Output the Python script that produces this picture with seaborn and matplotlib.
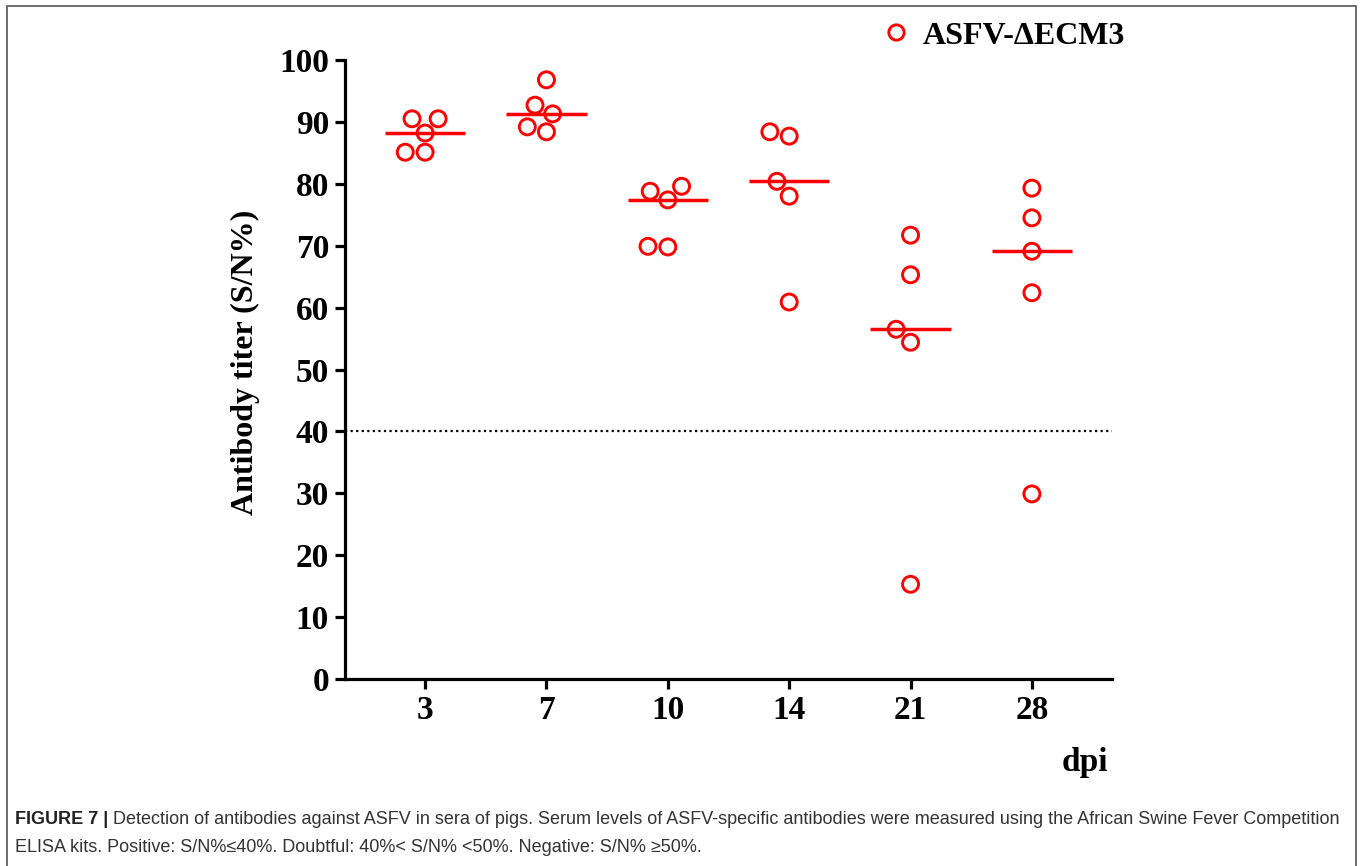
import numpy as np
import pandas as pd
import matplotlib
matplotlib.use("Agg")
import matplotlib.pyplot as plt
from matplotlib.lines import Line2D
from matplotlib.patches import Rectangle
import seaborn as sns

# ---- data ----
days = ["3", "7", "10", "14", "21", "28"]
d3 = [90.5, 90.5, 88.2, 85.1, 85.1]
d7 = [96.8, 92.7, 91.3, 89.2, 88.4]
d10 = [79.6, 78.8, 77.4, 69.8, 69.9]
d14 = [88.4, 87.7, 80.4, 78.0, 60.9]
d21 = [71.7, 65.3, 56.5, 54.4, 15.3]
d28 = [79.3, 74.5, 69.1, 62.4, 29.9]
yticks = [0, 10, 20, 30, 40, 50, 60, 70, 80, 90, 100]
cutoff = 40
series_name = "ASFV-\u0394ECM3"
ylabel = "Antibody titer (S/N%)"
xlabel = "dpi"
caption_bold = "FIGURE 7 |"
caption_line1 = (" Detection of antibodies against ASFV in sera of pigs. Serum levels of "
                 "ASFV-specific antibodies were measured using the African Swine Fever Competition")
caption_line2 = ("ELISA kits. Positive: S/N%\u226440%. Doubtful: 40%< S/N% <50%. "
                 "Negative: S/N% \u226550%.")

groups = [d3, d7, d10, d14, d21, d28]
df = pd.DataFrame({
    "dpi": np.repeat(days, [len(g) for g in groups]),
    "titer": np.concatenate(groups),
})

sns.set_theme(style="ticks")
plt.rcParams["font.family"] = ["Liberation Serif", "DejaVu Serif"]
plt.rcParams["text.color"] = "black"
plt.rcParams["axes.labelcolor"] = "black"
plt.rcParams["xtick.color"] = "black"
plt.rcParams["ytick.color"] = "black"

W, H = 1360, 866
fig = plt.figure(figsize=(W / 100, H / 100), dpi=100)
ax = fig.add_axes([345 / W, 1 - 679 / H, (1112 - 345) / W, (679 - 60) / H])

RED = "#ff0000"
sns.swarmplot(data=df, x="dpi", y="titer", order=days, ax=ax, size=11.5,
              color=RED, linewidth=2.0, edgecolor=RED, warn_thresh=1.0)
for coll in ax.collections:
    coll.set_facecolor("none")
    coll.set_edgecolor(RED)
    coll.set_linewidth(2.1)

sns.boxplot(data=df, x="dpi", y="titer", order=days, ax=ax, width=0.66,
            showbox=False, showcaps=False, showfliers=False,
            whiskerprops={"visible": False},
            medianprops={"color": RED, "linewidth": 2.5})

ax.axhline(cutoff, color="black", linestyle=(0, (1, 1.5)), linewidth=1.6, zorder=0)

ax.set_xlim(-0.66, 5.66)
ax.set_ylim(0, 100)
ax.set_yticks(yticks)
ax.set_yticklabels([str(t) for t in yticks])
sns.despine(ax=ax)
for s in ["left", "bottom"]:
    ax.spines[s].set_linewidth(2.3)
    ax.spines[s].set_color("black")
ax.tick_params(axis="both", which="major", length=7.5, width=2.3, color="black",
               labelcolor="black", labelsize=24, pad=4)
for lab in ax.get_xticklabels() + ax.get_yticklabels():
    lab.set_fontweight("bold")

ax.set_ylabel(ylabel, fontsize=23, fontweight="bold", color="black")
ax.yaxis.set_label_coords((260 - 345) / (1112 - 345), (679 - 362) / (679 - 60))
ax.set_xlabel(xlabel, fontsize=24, fontweight="bold", color="black")
ax.xaxis.set_label_coords((1085 - 345) / (1112 - 345), -(747 - 679) / (679 - 60))

handle = Line2D([], [], linestyle="none", marker="o", markersize=11,
                markerfacecolor="none", markeredgecolor=RED, markeredgewidth=2.1)
fig.legend([handle], [series_name], loc="center left",
           bbox_to_anchor=(880 / W, 1 - 36 / H), frameon=False,
           prop={"size": 23, "weight": "bold"}, handletextpad=0.35,
           borderaxespad=0, borderpad=0, handlelength=1.0)

# figure border
fig.patches.append(Rectangle((7 / W, -0.01), (1356 - 7) / W, 1 - 6 / H + 0.01,
                             transform=fig.transFigure, fill=False,
                             edgecolor="#555555", linewidth=1.2))

cap_font = ["Liberation Sans", "DejaVu Sans"]
cap_size = 13.0
t = fig.text(15 / W, 1 - 820 / H, caption_bold, fontsize=cap_size, fontweight="bold",
             color="#222222", va="center", family=cap_font)
fig.canvas.draw()
bb = t.get_window_extent()
fig.text(bb.x1 / W, 1 - 820 / H, caption_line1, fontsize=cap_size, color="#333333",
         va="center", family=cap_font)
fig.text(15 / W, 1 - 847 / H, caption_line2, fontsize=cap_size, color="#333333",
         va="center", family=cap_font)

fig.savefig("out.png", dpi=100)
